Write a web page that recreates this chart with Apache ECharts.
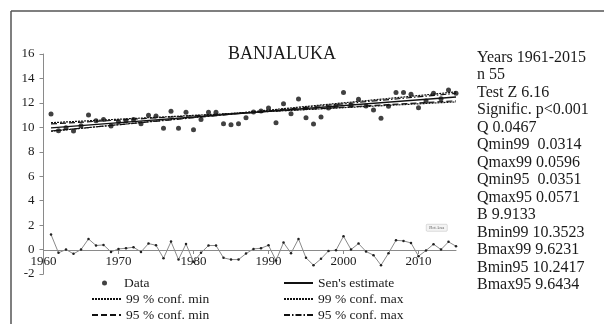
<!DOCTYPE html>
<html>
<head>
<meta charset="utf-8">
<script src="https://cdn.jsdelivr.net/npm/echarts@6/dist/echarts.min.js"></script>
<style>html,body{margin:0;padding:0;background:#fff}#c{width:604px;height:324px}</style>
</head>
<body>
<div id="c"></div>
<script>
// ---- data ----
const years = [1961,1962,1963,1964,1965,1966,1967,1968,1969,1970,1971,1972,1973,1974,1975,1976,1977,1978,1979,1980,
  1981,1982,1983,1984,1985,1986,1987,1988,1989,1990,1991,1992,1993,1994,1995,1996,1997,1998,1999,2000,
  2001,2002,2003,2004,2005,2006,2007,2008,2009,2010,2011,2012,2013,2014,2015];
const dataValues = [11.09,9.72,9.97,9.70,10.13,11.0,10.54,10.65,10.1,10.46,10.54,10.65,10.3,10.98,10.93,9.92,11.31,9.92,11.23,9.8,
  10.65,11.23,11.23,10.3,10.21,10.3,10.79,11.25,11.33,11.58,10.38,11.93,11.11,12.32,10.79,10.27,10.84,11.58,11.74,12.86,
  11.8,12.29,11.74,11.42,10.74,11.72,12.86,12.86,12.7,11.6,12.15,12.78,12.34,13.05,12.78];
const residuals = [1.23,-0.27,0.0,-0.35,0.0,0.87,0.33,0.38,-0.19,0.05,0.11,0.19,-0.19,0.49,0.35,-0.71,0.65,-0.82,0.46,-1.0,
  -0.27,0.33,0.33,-0.68,-0.82,-0.82,-0.33,0.05,0.11,0.35,-0.9,0.57,-0.3,0.87,-0.68,-1.28,-0.76,-0.11,-0.05,1.09,
  0.0,0.49,-0.16,-0.46,-1.28,-0.3,0.76,0.71,0.54,-0.54,-0.08,0.44,0.0,0.63,0.27];
// trend line end values (1961, 2015)
const lineYears = [1961, 2015];
const sensLine = [9.96, 12.48];
const conf99min = [10.38, 12.08];
const conf99max = [9.68, 12.90];
const conf95min = [10.28, 12.17];
const conf95max = [9.70, 12.78];
const xTicks = [1960,1970,1980,1990,2000,2010];
const yTicks = [-2,0,2,4,6,8,10,12,14,16];
const titleText = 'BANJALUKA';
const statsLines = ['Years 1961-2015','n 55','Test Z 6.16','Signific. p<0.001','Q 0.0467','Qmin99  0.0314','Qmax99 0.0596',
  'Qmin95  0.0351','Qmax95 0.0571','B 9.9133','Bmin99 10.3523','Bmax99 9.6231','Bmin95 10.2417','Bmax95 9.6434'];

const pair = (xs, ys) => xs.map((x, i) => [x, ys[i]]);
const FONT = '"Liberation Serif", "DejaVu Serif", serif';
const chart = echarts.init(document.getElementById('c'), null, {renderer: 'canvas'});
const lineSeries = (name, vals, type, width) => ({
  name, type: 'line', data: pair(lineYears, vals), symbol: 'none', silent: true,
  itemStyle: {color: '#111'},
  lineStyle: {color: '#111', width: width, type: type}, z: 4
});
const legendText = {fontFamily: FONT, fontSize: 13.5, color: '#1a1a1a'};
const mkLegend = (name, left, top, isLine) => ({
  data: [isLine ? {name, itemStyle: {opacity: 0}} : name],
  left, top, padding: 0, itemWidth: 29, itemHeight: 5, selectedMode: false, textStyle: legendText
});
chart.setOption({
  animation: false,
  backgroundColor: '#fff',
  textStyle: {fontFamily: FONT},
  title: {text: titleText, left: 223, top: 40,
    textStyle: {fontFamily: FONT, fontSize: 18, fontWeight: 'normal', color: '#1a1a1a'}},
  grid: [
    {left: 43.5, right: 148, top: 54, bottom: 50, containLabel: false},
    {left: 43.5, right: 148, top: 54, bottom: 74, containLabel: false}
  ],
  xAxis: [
    {type: 'value', gridIndex: 0, min: 1960, max: 2015, show: false},
    {type: 'value', gridIndex: 1, min: 1960, max: 2015, interval: 10,
      axisLine: {show: true, onZero: false, lineStyle: {color: '#8a8a8a', width: 1}},
      axisTick: {show: true, length: 4, lineStyle: {color: '#8a8a8a'}, customValues: xTicks},
      axisLabel: {customValues: xTicks, formatter: v => String(v), margin: 5, fontFamily: FONT, fontSize: 13, color: '#1a1a1a'},
      splitLine: {show: false}}
  ],
  yAxis: [
    {type: 'value', gridIndex: 0, min: -2, max: 16, interval: 2,
      axisLine: {show: true, lineStyle: {color: '#8a8a8a', width: 1}},
      axisTick: {show: true, length: 4, lineStyle: {color: '#8a8a8a'}, customValues: yTicks},
      axisLabel: {customValues: yTicks, margin: 9, fontFamily: FONT, fontSize: 13, color: '#1a1a1a'},
      splitLine: {show: false}},
    {type: 'value', gridIndex: 1, min: 0, max: 16, show: false}
  ],
  legend: [
    mkLegend('Data', 102, 276, false),
    mkLegend('99 % conf. min', 91, 292, true),
    mkLegend('95 % conf. min', 91, 308, true),
    mkLegend("Sen's estimate", 283, 276, true),
    mkLegend('99 % conf. max', 283, 292, true),
    mkLegend('95 % conf. max', 283, 308, true)
  ],
  series: [
    {name: 'residual', type: 'line', data: pair(years, residuals), symbol: 'circle', symbolSize: 2.5,
      itemStyle: {color: '#222'}, lineStyle: {color: '#8a8a8a', width: 1}, z: 2, silent: true},
    {name: 'Data', type: 'scatter', data: pair(years, dataValues), symbol: 'circle', symbolSize: 5,
      itemStyle: {color: '#111'}, z: 3},
    lineSeries("Sen's estimate", sensLine, 'solid', 1.3),
    lineSeries('99 % conf. min', conf99min, [2, 1], 1.2),
    lineSeries('99 % conf. max', conf99max, [2, 1], 1.2),
    lineSeries('95 % conf. min', conf95min, [6, 3], 1.2),
    lineSeries('95 % conf. max', conf95max, [6, 2, 1.5, 2], 1.2)
  ],
  graphic: [
    {type: 'line', shape: {x1: 11, y1: 11, x2: 604, y2: 11}, style: {stroke: '#555', lineWidth: 1.5}},
    {type: 'line', shape: {x1: 11, y1: 11, x2: 11, y2: 324}, style: {stroke: '#555', lineWidth: 1.5}},
    {type: 'text', left: 477, top: 49, style: {text: statsLines.join('\n'), font: '16px ' + FONT,
      lineHeight: 17.5, fill: '#1a1a1a'}},
    {type: 'group', left: 426, top: 224, children: [
      {type: 'rect', shape: {x: 0, y: 0, width: 21, height: 7, r: 1}, style: {fill: '#f4f4f4', stroke: '#bbb', lineWidth: 0.5}},
      {type: 'text', x: 10.5, y: 3.5, style: {text: 'Plot Area', font: '4px ' + FONT, fill: '#555', align: 'center', verticalAlign: 'middle'}}
    ]}
  ]
});
</script>
</body>
</html>
